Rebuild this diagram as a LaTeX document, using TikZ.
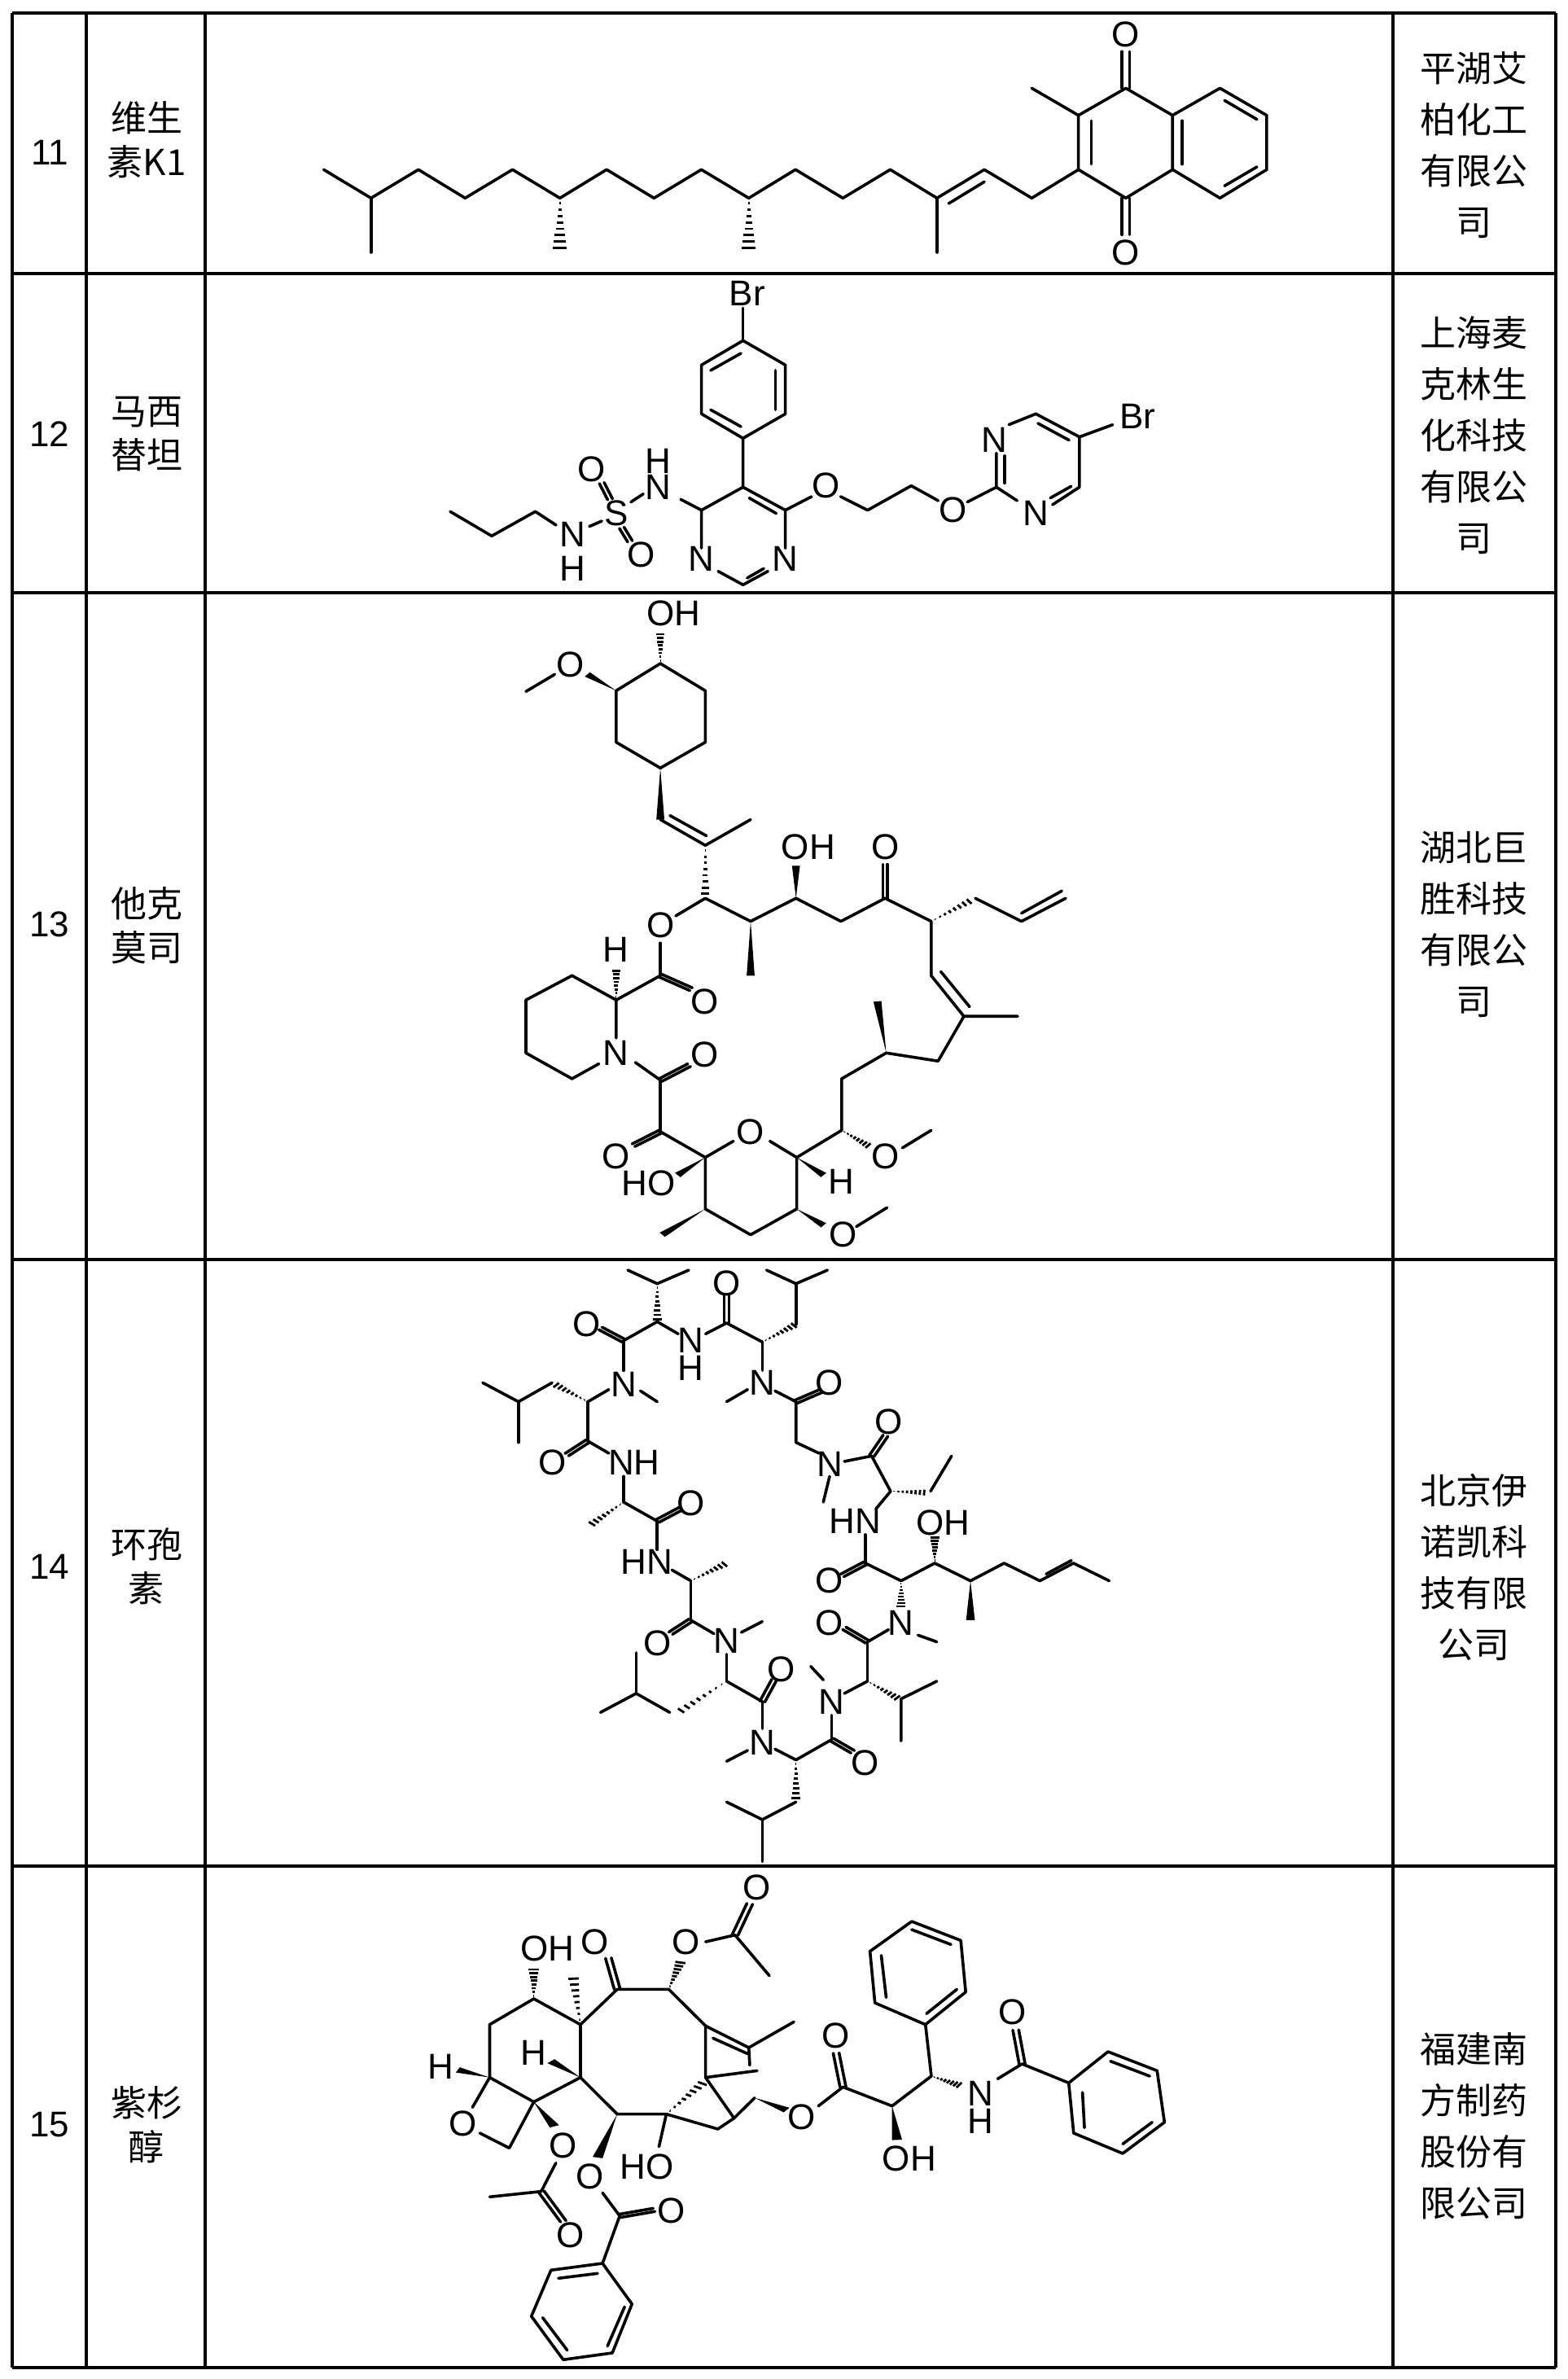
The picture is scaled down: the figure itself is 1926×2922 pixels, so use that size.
\documentclass[tikz,border=0pt]{standalone}
\usepackage{fontspec}
\setmainfont{Liberation Sans}
\newfontfamily\cjk{Noto Sans CJK SC}
\usetikzlibrary{calc}
\newcommand{\atm}[3]{\node[atom] (#1) at (#2) {#3};}
\newcommand{\wdg}[2]{\fill (#1) -- ($(#2)!2.6pt!90:(#1)$) -- ($(#2)!2.6pt!-90:(#1)$) -- cycle;}
\newcommand{\hsh}[2]{\foreach \t [evaluate=\t as \w using \t*2.8] in {0.1,0.22,...,0.95} {\draw[line width=0.7pt] ($(#1)!\t!(#2)!\w pt!90:(#2)$) -- ($(#1)!\t!(#2)!\w pt!-90:(#2)$);}}
\newcommand{\dbl}[2]{\draw[bond] ($(#1)!1.5pt!90:(#2)$) -- ($(#2)!1.5pt!-90:(#1)$); \draw[bond] ($(#1)!1.5pt!-90:(#2)$) -- ($(#2)!1.5pt!90:(#1)$);}
\begin{document}
\begin{tikzpicture}[x=0.25pt,y=-0.25pt,
  bond/.style={line width=0.9pt,line cap=round,line join=round},
  atom/.style={inner sep=0pt,font=\fontsize{11}{12}\selectfont},
  grid/.style={line width=1pt},
  num/.style={inner sep=0pt,font=\fontsize{11}{12}\selectfont},
  nm/.style={inner sep=0pt,align=center,font=\cjk\fontsize{11}{13.5}\selectfont},
  co/.style={inner sep=0pt,align=center,font=\cjk\fontsize{11}{15.75}\selectfont}]
\useasboundingbox (0,0) rectangle (1926,2922);
\fill[white] (0,0) rectangle (1926,2922);
% table
\foreach \xx in {15,106,252,1711,1911} \draw[grid] (\xx,16) -- (\xx,2908);
\foreach \yy in {16,336,728,1547,2292,2908} \draw[grid] (15,\yy) -- (1911,\yy);
\node[num] (r11) at (61,187) {11};
\node[num] (r12) at (61,533) {12};
\node[num] (r13) at (61,1135) {13};
\node[num] (r14) at (61,1924) {14};
\node[num] (r15) at (61,2610) {15};
\node[nm] (n11) at (180,172) {维生\\素K1};
\node[nm] (n12) at (180,533) {马西\\替坦};
\node[nm] (n13) at (180,1137) {他克\\莫司};
\node[nm] (n14) at (180,1924) {环孢\\素};
\node[nm] (n15) at (180,2610) {紫杉\\醇};
\node[co] (c11) at (1810,178) {平湖艾\\柏化工\\有限公\\司};
\node[co] (c12) at (1810,535) {上海麦\\克林生\\化科技\\有限公\\司};
\node[co] (c13) at (1810,1135) {湖北巨\\胜科技\\有限公\\司};
\node[co] (c14) at (1810,1925) {北京伊\\诺凯科\\技有限\\公司};
\node[co] (c15) at (1810,2611) {福建南\\方制药\\股份有\\限公司};
% ---------- vitamin K1
\begin{scope}[shift={(380,15)},xscale=0.7972,yscale=0.3333]
\draw[bond] (22,580) -- (95,685) -- (168,580) -- (240,685) -- (313,580) -- (386,685) -- (458,580) -- (531,685) -- (604,580) -- (677,685) -- (749,580) -- (822,685) -- (895,580) -- (967,685) -- (1040,580) -- (1113,685) -- (1185,580);
\draw[bond] (985,705) -- (1040,625);
\draw[bond] (95,685) -- (95,885);
\draw[bond] (967,685) -- (967,885);
\hsh{386,685}{386,880}
\hsh{677,685}{677,880}
\draw[bond] (1185,580) -- (1185,380) -- (1258,280) -- (1330,380) -- (1330,580) -- (1258,685) -- cycle;
\draw[bond] (1205,400) -- (1205,560);
\draw[bond] (1185,380) -- (1113,280);
\dbl{1258,280}{1258,145}
\atm{k1}{1258,82}{O}
\dbl{1258,685}{1258,820}
\atm{k2}{1258,885}{O}
\draw[bond] (1330,380) -- (1403,280) -- (1475,380) -- (1475,580) -- (1403,685) -- (1330,580);
\draw[bond] (1345,400) -- (1345,560);
\draw[bond] (1410,325) -- (1460,395);
\draw[bond] (1410,640) -- (1460,570);
\end{scope}
% ---------- macitentan
\begin{scope}[shift={(530,340)},xscale=0.5102,yscale=0.3333]
\atm{m1}{760,60}{Br}
\draw[bond] (750,115) -- (750,235);
\draw[bond] (750,235) -- (650,325) -- (650,505) -- (750,595) -- (852,505) -- (852,325) -- cycle;
\draw[bond] (672,345) -- (745,282);
\draw[bond] (828,345) -- (828,490);
\draw[bond] (672,490) -- (745,552);
\draw[bond] (750,595) -- (750,775) -- (650,860) -- (650,1000);
\atm{m2}{650,1040}{N}
\draw[bond] (690,1085) -- (750,1135) -- (810,1085);
\draw[bond] (760,1110) -- (800,1075);
\atm{m3}{852,1040}{N}
\draw[bond] (852,1000) -- (852,860) -- (750,775);
\draw[bond] (765,815) -- (830,872);
\draw[bond] (650,860) -- (600,820);
\atm{m4}{545,775}{N}
\atm{m5}{545,680}{H}
\draw[bond] (510,800) -- (480,830);
\atm{m6}{445,870}{S}
\dbl{430,820}{410,760}
\atm{m7}{385,710}{O}
\dbl{458,925}{478,975}
\atm{m8}{505,1025}{O}
\draw[bond] (410,900) -- (380,920);
\atm{m9}{340,950}{N}
\atm{m10}{340,1075}{H}
\draw[bond] (300,915) -- (250,865) -- (145,955) -- (45,865);
\draw[bond] (852,860) -- (915,810);
\atm{m11}{950,770}{O}
\draw[bond] (985,810) -- (1050,860) -- (1155,770) -- (1220,825);
\atm{m12}{1255,860}{O}
\draw[bond] (1290,830) -- (1360,775) -- (1360,650);
\atm{m13}{1355,600}{N}
\draw[bond] (1390,545) -- (1455,505) -- (1560,590) -- (1560,775) -- (1495,840);
\atm{m14}{1455,870}{N}
\draw[bond] (1410,825) -- (1360,775);
\draw[bond] (1460,540) -- (1535,602);
\draw[bond] (1380,760) -- (1380,660);
\draw[bond] (1490,815) -- (1540,772);
\draw[bond] (1560,590) -- (1640,545);
\atm{m15}{1700,515}{Br}
\end{scope}
% ---------- tacrolimus
\begin{scope}[shift={(620,735)},xscale=0.4719,yscale=0.3333]
\atm{t1}{440,55}{OH}
\hsh{405,240}{405,125}
\draw[bond] (405,240) -- (290,340) -- (290,530) -- (405,625) -- (522,530) -- (522,340) -- cycle;
\wdg{290,340}{215,280}
\atm{t2}{170,245}{O}
\draw[bond] (130,280) -- (55,343);
\wdg{405,625}{405,815}
\draw[bond] (405,815) -- (522,910) -- (640,815);
\draw[bond] (430,800) -- (525,875);
\hsh{522,910}{522,1100}
\draw[bond] (522,1105) -- (445,1170);
\atm{t3}{405,1205}{O}
\draw[bond] (522,1105) -- (640,1190) -- (758,1105) -- (875,1190) -- (990,1105) -- (1110,1190);
\wdg{640,1190}{640,1390}
\wdg{758,1105}{758,985}
\atm{t4}{790,915}{OH}
\dbl{990,1105}{990,980}
\atm{t5}{990,915}{O}
\hsh{1110,1190}{1215,1112}
\draw[bond] (1225,1105) -- (1345,1190) -- (1460,1105);
\draw[bond] (1345,1160) -- (1450,1078);
\draw[bond] (1110,1190) -- (1110,1390) -- (1195,1540) -- (1335,1540);
\draw[bond] (1135,1375) -- (1210,1505);
\draw[bond] (1195,1540) -- (1128,1705) -- (993,1675) -- (877,1770) -- (877,1960) -- (760,2060);
\wdg{993,1675}{970,1485}
\hsh{877,1960}{950,2020}
\atm{t6}{990,2055}{O}
\draw[bond] (1035,2025) -- (1110,1960);
\wdg{760,2060}{830,2125}
\atm{t7}{875,2150}{H}
\draw[bond] (760,2060) -- (690,2000);
\atm{t8}{640,1965}{O}
\draw[bond] (595,2000) -- (522,2060) -- (522,2250) -- (640,2345) -- (760,2250) -- (760,2060);
\wdg{760,2250}{830,2310}
\atm{t9}{880,2345}{O}
\draw[bond] (915,2315) -- (995,2245);
\wdg{522,2250}{410,2345}
\wdg{522,2060}{450,2125}
\atm{t10}{375,2155}{HO}
\draw[bond] (522,2060) -- (405,1965);
\dbl{405,1965}{335,2015}
\atm{t11}{290,2055}{O}
\draw[bond] (405,1965) -- (405,1775);
\dbl{405,1775}{480,1720}
\atm{t12}{520,1680}{O}
\draw[bond] (405,1775) -- (340,1710);
\atm{t13}{290,1675}{N}
\draw[bond] (290,1620) -- (290,1480) -- (175,1390) -- (55,1480) -- (55,1675) -- (175,1770) -- (245,1715);
\hsh{290,1480}{290,1365}
\atm{t14}{290,1295}{H}
\draw[bond] (290,1480) -- (405,1390);
\dbl{405,1390}{485,1440}
\atm{t15}{520,1485}{O}
\draw[bond] (405,1390) -- (405,1270);
\end{scope}
% ---------- cyclosporin
\begin{scope}[shift={(580,1550)},xscale=0.5165,yscale=0.3333]
\draw[bond] (370,30) -- (440,80) -- (515,30);
\hsh{440,80}{440,220}
\draw[bond] (440,220) -- (360,290);
\dbl{360,290}{305,245}
\atm{c1}{272,228}{O}
\draw[bond] (440,220) -- (490,265);
\atm{c2}{520,290}{N}
\atm{c3}{520,392}{H}
\draw[bond] (555,265) -- (605,225);
\dbl{605,225}{605,120}
\atm{c4}{605,80}{O}
\draw[bond] (605,225) -- (690,295);
\hsh{690,295}{770,230}
\draw[bond] (770,230) -- (770,80);
\draw[bond] (700,30) -- (770,80) -- (845,30);
\draw[bond] (690,295) -- (690,400);
\atm{c5}{690,445}{N}
\draw[bond] (655,470) -- (605,515);
\draw[bond] (720,475) -- (770,515);
\dbl{770,515}{830,475}
\atm{c6}{850,445}{O}
\draw[bond] (770,515) -- (770,665) -- (825,705);
\atm{c7}{850,745}{N}
\draw[bond] (850,790) -- (835,885);
\draw[bond] (885,735) -- (950,715);
\dbl{950,715}{983,640}
\atm{c8}{990,590}{O}
\draw[bond] (950,715) -- (995,845);
\hsh{995,845}{1080,850}
\draw[bond] (1090,845) -- (1140,715);
\draw[bond] (995,845) -- (960,910);
\atm{c9}{910,955}{HN}
\draw[bond] (935,1005) -- (935,1110);
\dbl{935,1110}{880,1155}
\atm{c10}{850,1175}{O}
\draw[bond] (935,1110) -- (1020,1175);
\hsh{1020,1175}{1020,1275}
\atm{c11}{1020,1330}{N}
\draw[bond] (1020,1175) -- (1100,1110) -- (1185,1175) -- (1265,1110) -- (1350,1175) -- (1430,1110) -- (1515,1175);
\draw[bond] (1365,1150) -- (1425,1100);
\hsh{1100,1110}{1100,1010}
\atm{c12}{1120,960}{OH}
\wdg{1185,1175}{1185,1320}
\draw[bond] (1060,1375) -- (1105,1400);
\draw[bond] (990,1355) -- (940,1400);
\dbl{940,1400}{885,1350}
\atm{c13}{850,1330}{O}
\draw[bond] (940,1400) -- (940,1545);
\hsh{940,1545}{1015,1610}
\draw[bond] (1105,1545) -- (1020,1610) -- (1020,1765);
\draw[bond] (940,1545) -- (885,1590);
\atm{c14}{855,1620}{N}
\draw[bond] (835,1540) -- (805,1490);
\draw[bond] (855,1670) -- (855,1760);
\dbl{855,1760}{905,1805}
\atm{c15}{935,1845}{O}
\draw[bond] (855,1760) -- (770,1835);
\hsh{770,1835}{770,1985}
\draw[bond] (770,1990) -- (690,2055) -- (605,1990);
\draw[bond] (690,2055) -- (690,2210);
\draw[bond] (770,1835) -- (720,1795);
\atm{c16}{690,1770}{N}
\draw[bond] (655,1800) -- (605,1840);
\draw[bond] (690,1720) -- (690,1620);
\dbl{690,1620}{718,1540}
\atm{c17}{735,1500}{O}
\draw[bond] (690,1620) -- (605,1545);
\hsh{605,1545}{490,1660}
\draw[bond] (470,1660) -- (390,1590) -- (305,1660);
\draw[bond] (390,1590) -- (390,1440);
\draw[bond] (605,1545) -- (605,1445);
\atm{c18}{605,1395}{N}
\draw[bond] (640,1365) -- (690,1325);
\draw[bond] (575,1370) -- (520,1320);
\dbl{520,1320}{472,1368}
\atm{c19}{440,1405}{O}
\draw[bond] (520,1320) -- (520,1175);
\hsh{520,1175}{605,1110}
\draw[bond] (520,1175) -- (475,1135);
\atm{c20}{415,1105}{HN}
\draw[bond] (440,1060) -- (440,955);
\dbl{440,955}{495,910}
\atm{c21}{520,890}{O}
\draw[bond] (440,955) -- (360,885);
\hsh{360,885}{280,970}
\draw[bond] (360,885) -- (360,790);
\atm{c22}{385,740}{NH}
\draw[bond] (325,705) -- (275,660);
\dbl{275,660}{225,710}
\atm{c23}{190,740}{O}
\draw[bond] (275,660) -- (275,515);
\hsh{275,515}{195,450}
\draw[bond] (190,445) -- (110,515) -- (25,445);
\draw[bond] (110,515) -- (110,665);
\draw[bond] (275,515) -- (325,470);
\atm{c24}{360,450}{N}
\draw[bond] (400,475) -- (440,515);
\draw[bond] (360,400) -- (360,290);
\end{scope}
% ---------- paclitaxel
\begin{scope}[shift={(505,2305)},xscale=0.6028,yscale=0.3333]
\atm{x1}{278,265}{OH}
\hsh{250,450}{250,335}
\draw[bond] (250,450) -- (160,545) -- (160,740) -- (250,830) -- (345,740) -- (345,545) -- cycle;
\wdg{160,740}{95,712}
\atm{x2}{60,700}{H}
\wdg{345,740}{285,680}
\atm{x3}{250,650}{H}
\hsh{345,545}{330,365}
\draw[bond] (345,545) -- (420,415) -- (525,415) -- (600,550) -- (600,740);
\dbl{420,415}{402,300}
\atm{x4}{375,240}{O}
\hsh{525,415}{550,310}
\atm{x5}{560,240}{O}
\draw[bond] (600,240) -- (660,215) -- (730,365);
\dbl{660,215}{690,100}
\atm{x6}{705,40}{O}
\draw[bond] (600,550) -- (688,630) -- (780,535);
\draw[bond] (615,595) -- (685,652);
\draw[bond] (688,630) -- (690,695);
\draw[bond] (600,740) -- (705,715);
\draw[bond] (600,740) -- (658,890);
\draw[bond] (700,815) -- (658,890) -- (625,930) -- (520,875) -- (420,875) -- (345,740);
\hsh{520,875}{598,755}
\wdg{700,815}{765,860}
\atm{x7}{795,885}{O}
\wdg{420,875}{380,1035}
\atm{x8}{365,1105}{O}
\draw[bond] (520,875) -- (505,995);
\atm{x9}{480,1068}{HO}
\wdg{250,830}{292,920}
\atm{x10}{310,990}{O}
\draw[bond] (160,740) -- (125,850);
\atm{x11}{105,910}{O}
\draw[bond] (140,945) -- (200,1000) -- (250,830);
\draw[bond] (295,1055) -- (265,1160) -- (160,1180);
\dbl{265,1160}{310,1270}
\atm{x12}{325,1320}{O}
\draw[bond] (390,1165) -- (425,1250) -- (390,1425);
\dbl{425,1250}{495,1228}
\atm{x13}{530,1230}{O}
\draw[bond] (390,1425) -- (285,1450) -- (245,1620) -- (310,1780) -- (410,1755) -- (450,1575) -- cycle;
\draw[bond] (300,1480) -- (380,1462);
\draw[bond] (268,1625) -- (318,1745);
\draw[bond] (400,1730) -- (435,1585);
\draw[bond] (830,845) -- (880,775) -- (980,845) -- (1060,735) -- (1048,545) -- (945,465) -- (935,275) -- (1020,165) -- (1120,235) -- (1130,425) -- (1048,545);
\draw[bond] (958,290) -- (968,445);
\draw[bond] (1020,195) -- (1100,250);
\draw[bond] (1050,505) -- (1112,415);
\dbl{880,775}{866,650}
\atm{x14}{865,585}{O}
\wdg{980,845}{990,970}
\atm{x15}{1015,1040}{OH}
\hsh{1060,735}{1120,770}
\atm{x16}{1160,800}{N}
\atm{x17}{1160,900}{H}
\draw[bond] (1195,745) -- (1245,690) -- (1340,760);
\dbl{1245,690}{1232,565}
\atm{x18}{1225,500}{O}
\draw[bond] (1340,760) -- (1420,645) -- (1520,715) -- (1535,905) -- (1450,1020) -- (1350,945) -- cycle;
\draw[bond] (1425,680) -- (1505,735);
\draw[bond] (1368,795) -- (1372,925);
\draw[bond] (1450,985) -- (1510,905);
\end{scope}
\end{tikzpicture}
\end{document}
